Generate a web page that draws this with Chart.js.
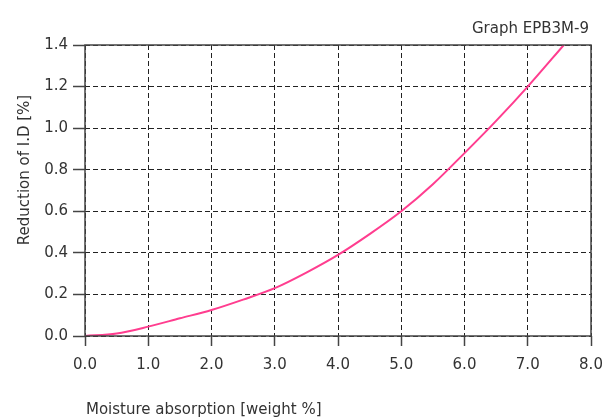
<!DOCTYPE html>
<html>
<head>
<meta charset="utf-8">
<script src="https://cdn.jsdelivr.net/npm/chart.js@4/dist/chart.umd.min.js"></script>
<style>
  html, body { margin: 0; padding: 0; background: #fff; }
  #wrap { width: 614px; height: 419px; position: relative; }
</style>
</head>
<body>
<div id="wrap"><canvas id="linechart"></canvas></div>
<script>
// curve (moisture % -> reduction of I.D %)
var moisture = [0, 0.5, 1.0, 1.5, 2.0, 2.5, 3.0, 3.5, 4.0, 4.5, 5.0, 5.5, 6.0, 6.5, 7.0, 7.57];
var reduction = [0, 0.012, 0.045, 0.085, 0.125, 0.175, 0.23, 0.305, 0.39, 0.49, 0.6, 0.73, 0.88, 1.035, 1.2, 1.4];

var xTicks = [0, 1, 2, 3, 4, 5, 6, 7, 8];
var yTicks = [0, 0.2, 0.4, 0.6, 0.8, 1.0, 1.2, 1.4];

var graphName = "Graph EPB3M-9";
var xTitle = "Moisture absorption [weight %]";
var yTitle = "Reduction of I.D [%]";

var fontFamily = "'DejaVu Sans', sans-serif";
var textColor = "#333";

document.addEventListener("DOMContentLoaded", function() {
    var points = moisture.map(function(x, i) {
        return { x: x, y: reduction[i] };
    });

    // frame + texts not handled by the axes
    var extras = {
        id: "extras",
        afterDraw: function(chart) {
            var ctx = chart.ctx;
            var a = chart.chartArea;
            ctx.save();
            ctx.strokeStyle = "#444";
            ctx.lineWidth = 1.5;
            ctx.strokeRect(a.left, a.top, a.right - a.left, a.bottom - a.top);

            ctx.fillStyle = textColor;
            ctx.font = "15px " + fontFamily;
            ctx.textAlign = "right";
            ctx.textBaseline = "alphabetic";
            ctx.fillText(graphName, a.right - 2, 33);

            ctx.textAlign = "left";
            ctx.fillText(xTitle, a.left + 1, 414);

            ctx.translate(29, 170);
            ctx.rotate(-Math.PI / 2);
            ctx.textAlign = "center";
            ctx.fillText(yTitle, 0, 0);
            ctx.restore();
        }
    };

    var ctx = document.getElementById("linechart").getContext("2d");
    var chart = new Chart(ctx, {
        type: "line",
        data: {
            datasets: [{
                data: points,
                borderColor: "#ff3d8f",
                borderWidth: 2,
                pointRadius: 0,
                tension: 0.4,
                cubicInterpolationMode: "monotone",
                fill: false
            }]
        },
        options: {
            responsive: true,
            maintainAspectRatio: false,
            animation: false,
            layout: { padding: { top: 45, right: 23, left: 0, bottom: 0 } },
            plugins: {
                legend: { display: false },
                tooltip: { enabled: false }
            },
            scales: {
                x: {
                    type: "linear",
                    min: 0,
                    max: 8,
                    afterBuildTicks: function(scale) {
                        scale.ticks = xTicks.map(function(v) { return { value: v }; });
                    },
                    afterFit: function(scale) { scale.height = 83; },
                    ticks: {
                        color: textColor,
                        font: { family: fontFamily, size: 15 },
                        padding: 10,
                        maxRotation: 0,
                        callback: function(v) { return v.toFixed(1); }
                    },
                    grid: {
                        color: "#222",
                        lineWidth: 1,
                        tickLength: 10,
                        tickColor: "#444",
                        tickWidth: 1.5,
                        tickBorderDash: []
                    },
                    border: { display: false, dash: [5, 3] }
                },
                y: {
                    min: 0,
                    max: 1.4,
                    afterBuildTicks: function(scale) {
                        scale.ticks = yTicks.map(function(v) { return { value: v }; });
                    },
                    afterFit: function(scale) { scale.width = 85; },
                    ticks: {
                        color: textColor,
                        font: { family: fontFamily, size: 15 },
                        padding: 5,
                        callback: function(v) { return v.toFixed(1); }
                    },
                    grid: {
                        color: "#222",
                        lineWidth: 1,
                        tickLength: 12,
                        tickColor: "#444",
                        tickWidth: 1.5,
                        tickBorderDash: []
                    },
                    border: { display: false, dash: [5, 3] }
                }
            }
        },
        plugins: [extras]
    });
});
</script>
</body>
</html>
